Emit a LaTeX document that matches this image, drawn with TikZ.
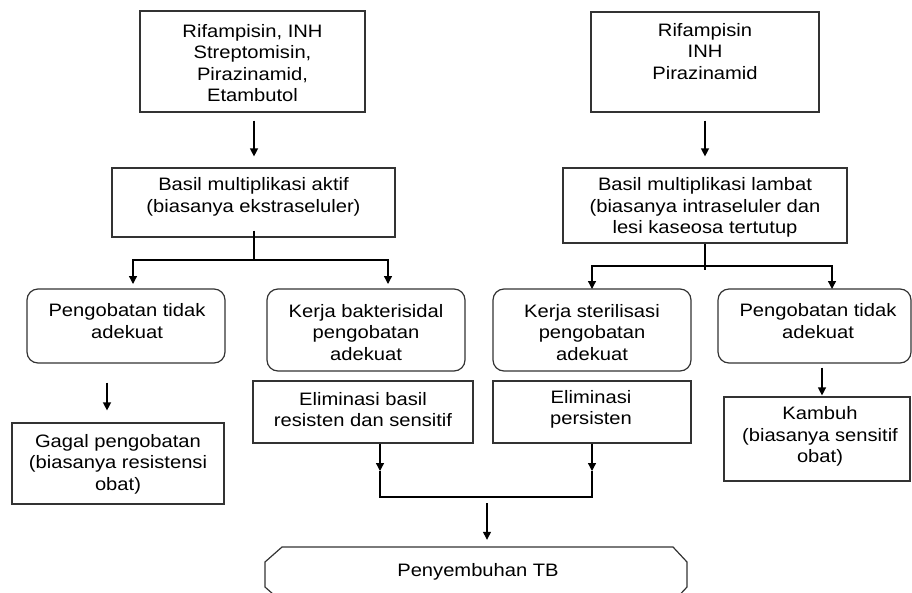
\documentclass[tikz,border=0pt]{standalone}
\usepackage{fontspec}
\setmainfont{Liberation Sans}[FakeStretch=1.12]
\usetikzlibrary{arrows.meta}
\definecolor{edge}{HTML}{333333}
\tikzset{
  box/.style={draw=edge, line width=1.2pt, inner sep=0pt},
  rbox/.style={box, rounded corners=11pt},
  txt/.style={align=center, inner sep=0pt, font=\fontsize{18}{21.5}\selectfont},
  arr/.style={line width=1.3pt, -{Triangle[length=8pt,width=8pt]}},
  ln/.style={line width=1.3pt},
}
\begin{document}
\begin{tikzpicture}[x=1pt,y=-1pt]
\useasboundingbox (0,0) rectangle (912,592);
% boxes
\node[box, minimum width=225pt, minimum height=101pt] (tl) at (252.5,61.5) {};
\node[txt] at (252.5,63) {Rifampisin, INH\\Streptomisin,\\Pirazinamid,\\Etambutol};
\node[box, minimum width=283pt, minimum height=69pt] (b1) at (253.5,202.5) {};
\node[txt] at (253.5,197) {Basil multiplikasi aktif\\(biasanya ekstraseluler)};
\node[box, minimum width=228pt, minimum height=100pt] (tr) at (705,62) {};
\node[txt] at (705,51.5) {Rifampisin\\INH\\Pirazinamid};
\node[box, minimum width=284pt, minimum height=75pt] (b2) at (705,205.5) {};
\node[txt] at (705,207.5) {Basil multiplikasi lambat\\(biasanya intraseluler dan\\lesi kaseosa tertutup};
\node[rbox, minimum width=198pt, minimum height=74pt] (p1) at (126,326) {};
\node[txt] at (127,321) {Pengobatan tidak\\adekuat};
\node[rbox, minimum width=198pt, minimum height=82pt] (p2) at (366,330) {};
\node[txt] at (366,332.5) {Kerja bakterisidal\\pengobatan\\adekuat};
\node[rbox, minimum width=198pt, minimum height=82pt] (p3) at (592,330) {};
\node[txt] at (592,332.5) {Kerja sterilisasi\\pengobatan\\adekuat};
\node[rbox, minimum width=193pt, minimum height=74pt] (p4) at (814.5,326) {};
\node[txt] at (818,321) {Pengobatan tidak\\adekuat};
\node[box, minimum width=212pt, minimum height=81pt] (g) at (118,463.5) {};
\node[txt] at (118,464) {Gagal pengobatan\\(biasanya resistensi\\obat)};
\node[box, minimum width=220pt, minimum height=62pt] (e1) at (363,412) {};
\node[txt] at (363,409.5) {Eliminasi basil\\resisten dan sensitif};
\node[box, minimum width=198pt, minimum height=62pt] (e2) at (592,412) {};
\node[txt] at (591,409.5) {Eliminasi\\persisten};
\node[box, minimum width=186pt, minimum height=84pt] (k) at (817,439) {};
\node[txt] at (820,436.5) {Kambuh\\(biasanya sensitif\\obat)};
% bottom shape (cut by the page edge)
\node[inner sep=0pt, minimum width=422pt, minimum height=55pt] (pt) at (476,574.5) {};
\begin{scope}
\clip (0,0) rectangle (912,592);
\draw[draw=edge, line width=1.2pt] (282,547) -- (673,547) -- (687,562) -- (687,587) -- (673,602) -- (282,602) -- (265,587) -- (265,562) -- cycle;
\end{scope}
\node[txt] at (478,572) {Penyembuhan TB};
% connectors
\draw[arr, shorten <=8pt, shorten >=11pt] (tl.south -| 254,0) -- (b1.north -| 254,0);
\draw[arr, shorten <=8pt, shorten >=11pt] (tr.south) -- (b2.north);
\coordinate (h1) at (254,260);
\coordinate (h1l) at (133,260);
\coordinate (h1r) at (388,260);
\draw[ln] ([yshift=7pt]b1.south -| h1) -- (h1);
\draw[arr] (h1) -- (h1l) -- (h1l |- 0,284);
\draw[arr] (h1) -- (h1r) -- (h1r |- 0,284);
\coordinate (h2) at (705,266);
\coordinate (h2l) at (592,266);
\coordinate (h2r) at (832,266);
\draw[ln] (b2.south) -- (705,270);
\draw[arr] (h2) -- (h2l) -- (h2l |- 0,289);
\draw[arr] (h2) -- (h2r) -- (h2r |- 0,289);
\draw[arr, shorten <=19pt, shorten >=12pt] (p1.south -| 107,0) -- (g.north -| 107,0);
\draw[arr, shorten <=4pt, shorten >=1pt] (p4.south -| 822,0) -- (k.north -| 822,0);
\coordinate (m1) at (380,471);
\coordinate (m2) at (592,471);
\coordinate (j1) at (380,497);
\coordinate (j2) at (592,497);
\draw[arr] (e1.south -| m1) -- (m1);
\draw[arr] (e2.south -| m2) -- (m2);
\draw[ln] (m1) -- (j1) -- (j2) -- (m2);
\draw[arr, shorten <=6pt, shorten >=7pt] (j1 -| 487,0) -- (pt.north -| 487,0);
\end{tikzpicture}
\end{document}
